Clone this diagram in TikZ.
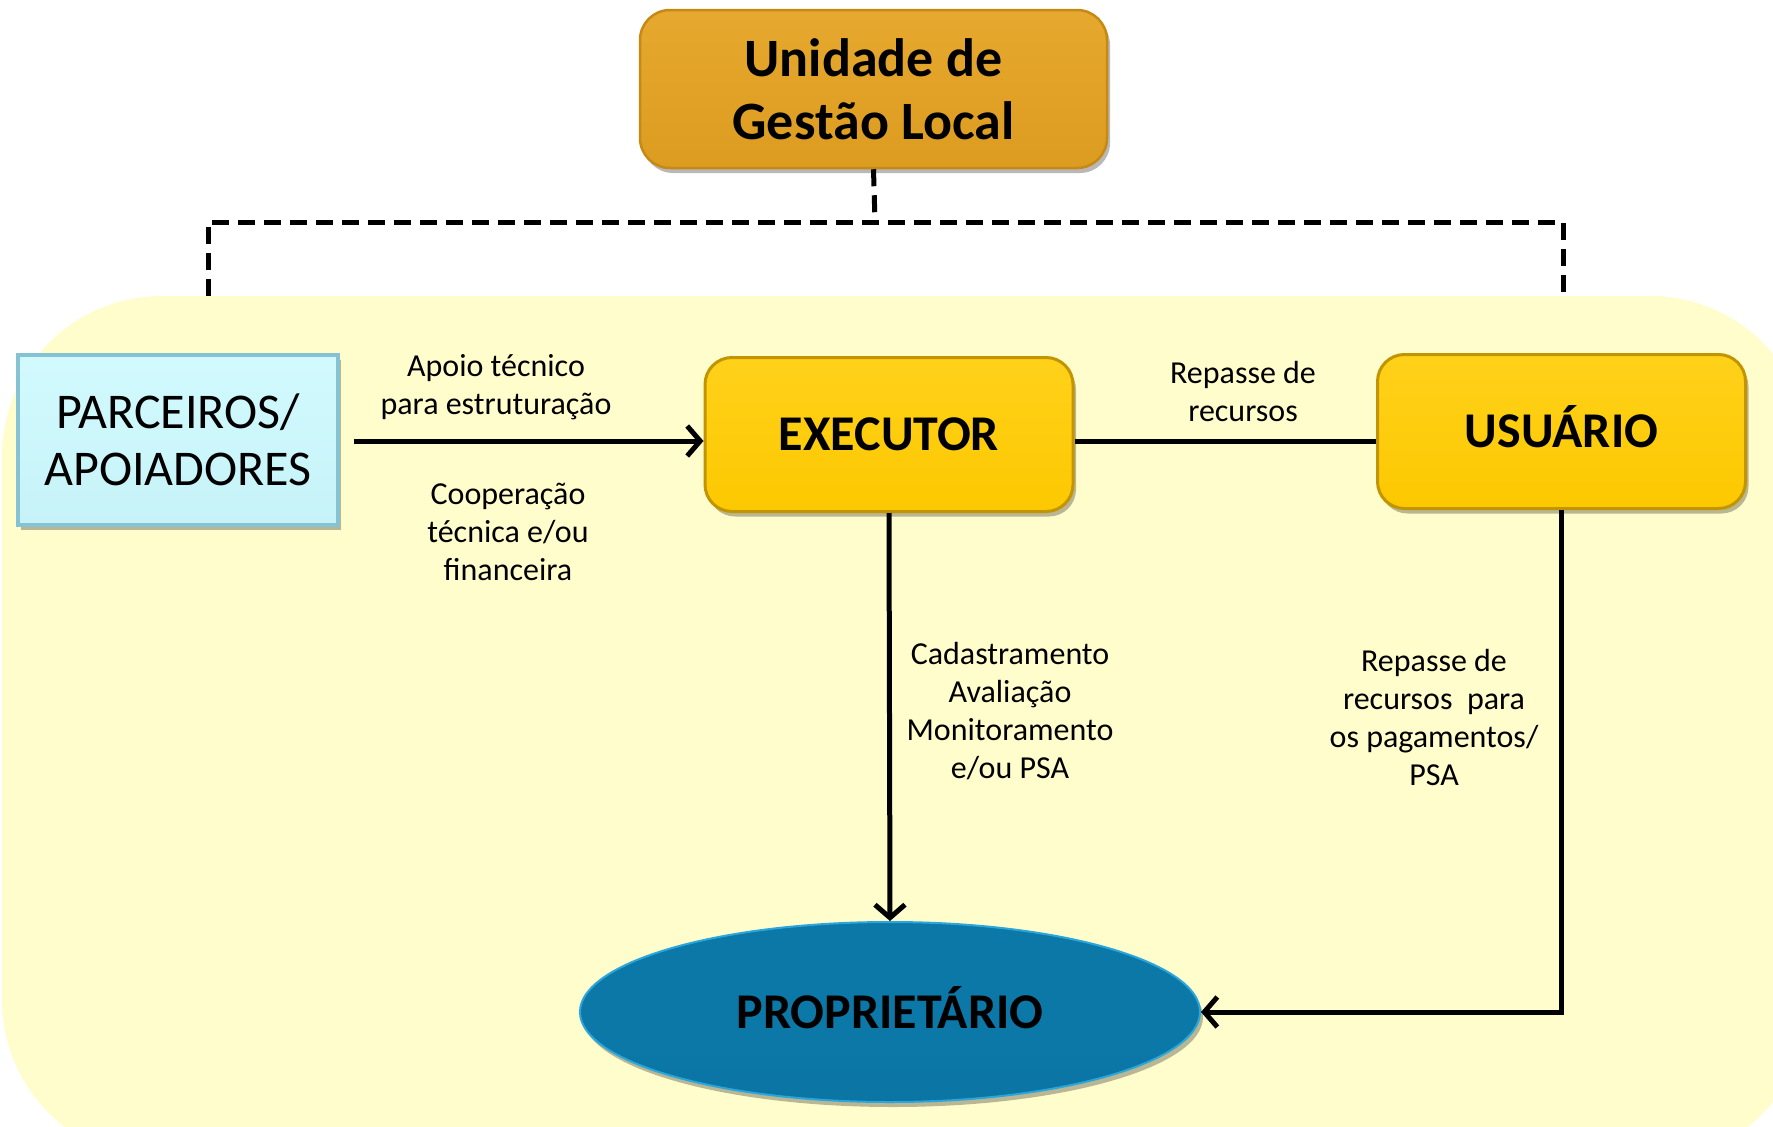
\documentclass[tikz,border=0pt]{standalone}
\usepackage{fontspec}
\setmainfont{Carlito}
\usetikzlibrary{arrows.meta,shapes.geometric,shadows,calc}
\definecolor{bgc}{HTML}{FFFDCC}
\definecolor{goldA}{HTML}{FFD11A}
\definecolor{goldB}{HTML}{FCC800}
\definecolor{goldrim}{HTML}{C29400}
\definecolor{orA}{HTML}{E6A82E}
\definecolor{orB}{HTML}{DC9C20}
\definecolor{orrim}{HTML}{C68A14}
\definecolor{cyanA}{HTML}{D2FAFE}
\definecolor{cyanB}{HTML}{C6F3F8}
\definecolor{cyanrim}{HTML}{84C2D4}
\definecolor{blueA}{HTML}{3CBDED}
\definecolor{blueM}{HTML}{0B78A8}
\definecolor{blueB}{HTML}{0A6E9C}
\definecolor{bluerim}{HTML}{2AA6DA}
\pgfdeclareverticalshading{propshade}{100bp}{color(0bp)=(blueB); color(40bp)=(blueM); color(78bp)=(blueM); color(100bp)=(blueA)}
\begin{document}
\begin{tikzpicture}[x=1pt,y=-1pt,
  shad/.style={drop shadow={shadow xshift=3pt,shadow yshift=-5pt,opacity=0.28,fill=black}},
  lbl/.style={align=center,font=\fontsize{32}{38}\selectfont,inner sep=0pt},
  conn/.style={line width=5pt,draw=black},
  arr/.style={conn,-{Straight Barb[length=13pt,width=30pt]}},
  dashline/.style={line width=5pt,dash pattern=on 17pt off 9pt},
  topbox/.style={shad,rounded corners=30pt,minimum width=467pt,minimum height=158pt,
    top color=orA,bottom color=orB,draw=orrim,line width=2.5pt,align=center,inner sep=0pt,
    font=\fontsize{54}{63}\selectfont\bfseries},
  parcbox/.style={shad,minimum width=320pt,minimum height=170pt,
    top color=cyanA,bottom color=cyanB,draw=cyanrim,line width=4pt,align=center,inner sep=0pt,
    font=\fontsize{50}{57}\selectfont},
  goldbox/.style={shad,rounded corners=27pt,minimum width=368pt,minimum height=154pt,
    top color=goldA,bottom color=goldB,draw=goldrim,line width=3pt,inner sep=0pt,
    text height=32pt,text depth=0pt,font=\fontsize{50}{58}\selectfont\bfseries},
  propshape/.style={ellipse,shad,minimum width=620pt,minimum height=180pt,inner sep=0pt,
    shading=propshade,draw=bluerim,line width=2pt,
    text height=32pt,text depth=0pt,font=\fontsize{50}{58}\selectfont\bfseries}
]
\clip (0,0) rectangle (1773,1127);
\fill[bgc,rounded corners=160pt] (2,296) rectangle (1810,1160);

% nodes
\node[topbox] (top) at (873.5,89) {Unidade de\\Gestão Local};
\node[parcbox] (parc) at (178,440) {PARCEIROS/\\APOIADORES};
\node[goldbox] (exec) at (889,434.5) {EXECUTOR};
\node[goldbox] (usu) at (1561.5,431.5) {USUÁRIO};
\node[propshape] (prop) at (890,1012) {PROPRIETÁRIO};

% dashed connector
\coordinate (dj) at (875,222);
\coordinate (dL) at (208,222);
\coordinate (dR) at (1563,222);
\coordinate (dLb) at (208,296);
\coordinate (dRb) at (1563,296);
\draw[dashline] (top.south) -- (dj);
\draw[dashline] (dLb) -- (dL) -- (dR) -- (dRb);

% connectors
\coordinate (hy) at (0,441);
\draw[arr] ($(parc.east |- hy)+(14,0)$) -- (exec.west |- hy);
\draw[conn] (exec.east |- hy) -- (usu.west |- hy);
\draw[arr] (exec.south) -- (prop.north);
\draw[arr] (usu.south) |- (prop.east);

% labels
\node[lbl] (l1) at (496,387) {Apoio técnico\\para estruturação};
\node[lbl] (l2) at (508,532) {Cooperação\\técnica e/ou\\financeira};
\node[lbl] (l3) at (1243,392) {Repasse de\\recursos};
\node[lbl] (l4) at (1010,711) {Cadastramento\\Avaliação\\Monitoramento\\e/ou PSA};
\node[lbl] (l5) at (1434,717) {Repasse de\\recursos~~para\\os pagamentos/\\PSA};
\end{tikzpicture}
\end{document}
